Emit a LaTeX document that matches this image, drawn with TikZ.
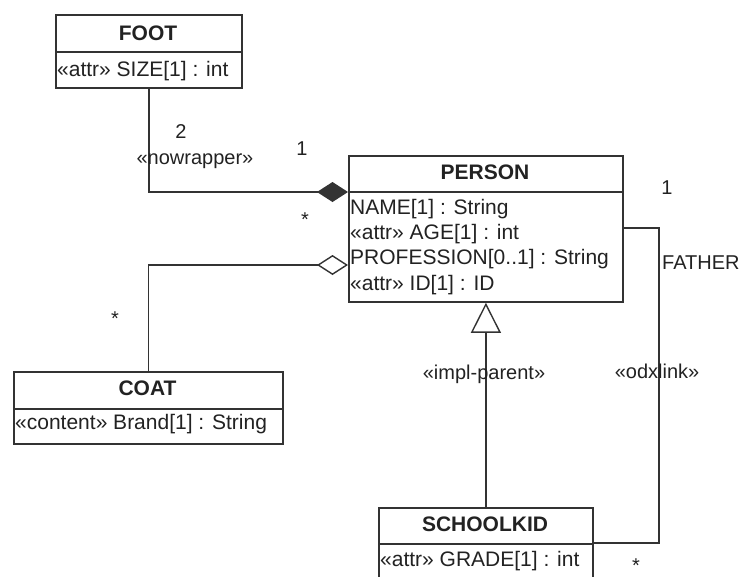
\documentclass[tikz,border=0pt]{standalone}
\usepackage{fontspec}
\setmainfont{Liberation Sans}
\usetikzlibrary{arrows.meta}
\definecolor{linec}{HTML}{333333}
\definecolor{txtc}{HTML}{222222}
\tikzset{
  cls/.style={draw=linec, line width=1.8pt, inner sep=0pt, anchor=north west},
  sepline/.style={draw=linec, line width=1.8pt},
  hdr/.style={inner sep=0pt, text=txtc, font=\fontsize{21}{24}\selectfont\bfseries},
  attr/.style={inner sep=0pt, anchor=west, text=txtc, font=\fontsize{21}{24}\selectfont},
  lbl/.style={inner sep=0pt, text=txtc, font=\fontsize{20}{24}\selectfont},
  conn/.style={draw=linec, line width=1.4pt},
}
\begin{document}
\begin{tikzpicture}[x=1pt,y=-1pt]
\clip (0,0) rectangle (751,576);
\fill[white] (0,0) rectangle (751,576);

% FOOT
\node[cls, minimum width=186pt, minimum height=73pt] (foot) at (55,14) {};
\draw[sepline] (55,52) -- (241,52);
\node[hdr] (footT) at (148,33) {FOOT};
\node[attr] (footA) at (57,71) {«attr» SIZE[1] : int};

% PERSON
\node[cls, minimum width=274pt, minimum height=146pt] (person) at (348,155) {};
\draw[sepline] (348,192) -- (622,192);
\node[hdr] (personT) at (485,172) {PERSON};
\node[attr] (pA1) at (350,209) {NAME[1] : String};
\node[attr] (pA2) at (350,234) {«attr» AGE[1] : int};
\node[attr] (pA3) at (350,259) {PROFESSION[0..1] : String};
\node[attr] (pA4) at (350,285) {«attr» ID[1] : ID};

% COAT
\node[cls, minimum width=269pt, minimum height=72pt] (coat) at (13,371) {};
\draw[sepline] (13,409) -- (282,409);
\node[hdr] (coatT) at (147.5,388) {COAT};
\node[attr] (coatA) at (15,424) {«content» Brand[1] : String};

% SCHOOLKID
\node[cls, minimum width=214pt, minimum height=100pt] (kid) at (378,507) {};
\draw[sepline] (378,544) -- (592,544);
\node[hdr] (kidT) at (485,524) {SCHOOLKID};
\node[attr] (kidA) at (380,561) {«attr» GRADE[1] : int};

% connector anchor points
\coordinate (pComp) at (348,192);
\coordinate (pAgg) at (348,265);
\coordinate (pOdx) at (622,228);
\coordinate (cOdx) at (659,543);
\coordinate (kOdx) at (592,543);

% composition FOOT - PERSON
\draw[conn, -{Diamond[length=31pt,width=20pt]}] (foot.south) |- (pComp);
% aggregation COAT - PERSON
\draw[conn, -{Diamond[open,length=31pt,width=20pt]}] (coat.north) |- (pAgg);
% generalization SCHOOLKID - PERSON
\draw[conn, -{Triangle[open,length=30pt,width=30pt]}] (kid.north) -- (person.south);
% odxlink
\draw[conn] (pOdx) -| (cOdx) -- (kOdx);

% labels
\node[lbl] (l2) at (181,132) {2};
\node[lbl] (lnw) at (195,161) {«nowrapper»};
\node[lbl] (l1a) at (302,149) {1};
\node[lbl] (ls1) at (305,220) {*};
\node[lbl] (ls2) at (115,319) {*};
\node[lbl] (limp) at (484,374) {«impl-parent»};
\node[lbl] (l1b) at (667,188) {1};
\node[lbl, anchor=west] (lfa) at (662,263) {FATHER};
\node[lbl] (lodx) at (657,371) {«odxlink»};
\node[lbl] (ls3) at (636,566) {*};
\end{tikzpicture}
\end{document}
